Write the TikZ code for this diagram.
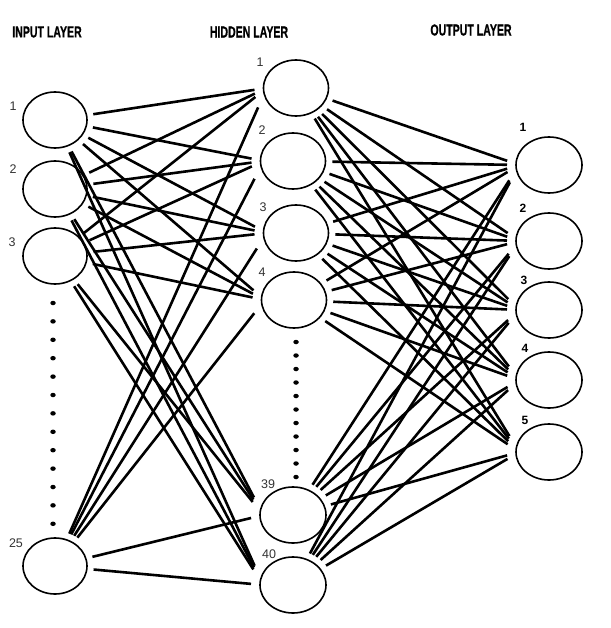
\documentclass[tikz,border=0pt]{standalone}
\usepackage{fontspec}
\setmainfont{Liberation Sans}
\newfontfamily\titlefont{Liberation Sans}[BoldFeatures={FakeBold=0.7,FakeStretch=0.66}]
\usetikzlibrary{shapes.geometric}
\tikzset{
  neuron/.style={ellipse, draw, line width=1.6pt, minimum width=64pt, minimum height=56pt, inner sep=0pt},
  tgt/.style={ellipse, minimum width=20pt, minimum height=54pt, inner sep=0pt},
  conn/.style={line width=2.6pt, shorten <=6pt, shorten >=2pt},
  title/.style={font=\titlefont\bfseries\fontsize{16}{16}\selectfont, inner sep=0pt},
  num/.style={font=\fontsize{12.5}{12.5}\selectfont, text=black!80, inner sep=1pt},
  onum/.style={font=\bfseries\fontsize{12}{12}\selectfont, inner sep=1pt},
  dot/.style={fill=black, ellipse, minimum width=5.5pt, minimum height=4.5pt, inner sep=0pt}
}
\begin{document}
\begin{tikzpicture}[x=1pt,y=-1pt]
\useasboundingbox (0,0) rectangle (610,628);
% titles
\node[title] (tin) at (47,32) {INPUT LAYER};
\node[title] (thid) at (249,32) {HIDDEN LAYER};
\node[title] (tout) at (471,30) {OUTPUT LAYER};
% input nodes
\node[neuron] (i1) at (55,120) {};
\node[neuron] (i2) at (55,189) {};
\node[neuron] (i3) at (55,256) {};
\node[neuron] (i25) at (55,566) {};
% hidden nodes
\node[neuron, minimum width=65pt] (h1) at (296,88) {};
\node[neuron, minimum width=65pt] (h2) at (293,161) {};
\node[neuron, minimum width=65pt] (h3) at (296,233) {};
\node[neuron, minimum width=65pt] (h4) at (294,300) {};
\node[neuron, minimum width=66pt] (h39) at (293,515) {};
\node[neuron, minimum width=66pt] (h40) at (293,585) {};
% output nodes
\node[neuron, minimum width=66pt] (o1) at (549,165) {};
\node[neuron, minimum width=66pt] (o2) at (549,241) {};
\node[neuron, minimum width=66pt] (o3) at (549,310) {};
\node[neuron, minimum width=66pt] (o4) at (549,380) {};
\node[neuron, minimum width=66pt] (o5) at (549,452) {};
% entry zones on the left side of each receiving node
\foreach \b in {h1,h2,h3,h4,h39,h40,o1,o2,o3,o4,o5} {
  \node[tgt] (\b-in) at ([xshift=4pt]\b.west) {};
}
% dots
\foreach \k in {0,...,12} {
  \node[dot] (di\k) at (53,{303+\k*18.4}) {};
}
\foreach \k in {0,...,10} {
  \node[dot] (dh\k) at (296,{342+\k*13.5}) {};
}
% connections
\foreach \a in {i1,i2,i3,i25} {
  \foreach \b in {h1,h2,h3,h4,h39,h40} {
    \draw[conn] (\a) -- (\b-in);
  }
}
\foreach \a in {h1,h2,h3,h4,h39,h40} {
  \foreach \b in {o1,o2,o3,o4,o5} {
    \draw[conn] (\a) -- (\b-in);
  }
}
% labels
\node[num] (li1) at (13,106) {1};
\node[num] (li2) at (13,169) {2};
\node[num] (li3) at (12,242) {3};
\node[num] (li25) at (16,543) {25};
\node[num] (lh1) at (260,62) {1};
\node[num] (lh2) at (262,130) {2};
\node[num] (lh3) at (263,207) {3};
\node[num] (lh4) at (262,272) {4};
\node[num] (lh39) at (268,484) {39};
\node[num] (lh40) at (269,554) {40};
\node[onum] (lo1) at (523,127) {1};
\node[onum] (lo2) at (523,208) {2};
\node[onum] (lo3) at (524,280) {3};
\node[onum] (lo4) at (525,348) {4};
\node[onum] (lo5) at (525,420) {5};
\end{tikzpicture}
\end{document}
